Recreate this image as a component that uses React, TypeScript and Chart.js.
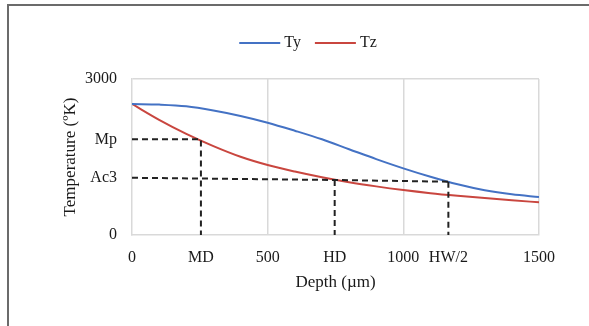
import React, { useEffect, useRef } from "react";
import { Chart, registerables } from "chart.js";

Chart.register(...registerables);

// ---- data ----
const depth = [0, 100, 200, 300, 400, 500, 600, 700, 800, 900, 1000, 1100, 1200, 1300, 1400, 1500];
const tyValues = [2520, 2508, 2475, 2395, 2290, 2160, 2005, 1840, 1650, 1460, 1282, 1120, 975, 860, 782, 731];
const tzValues = [2520, 2215, 1945, 1710, 1505, 1346, 1220, 1110, 1015, 935, 865, 805, 755, 710, 668, 629];

const MP = 1840;
const AC3 = 1100;
const MD = 254;
const HD = 747;
const HW2 = 1166;
const ac3LineDepth = [0, HD, HW2];
const ac3LineTemp = [AC3, 1058, 1025];

const xTickValues = [0, MD, 500, HD, 1000, HW2, 1500];
const xTickLabels = ["0", "MD", "500", "HD", "1000", "HW/2", "1500"];
const yTickValues = [0, AC3, MP, 3000];
const yTickLabels = ["0", "Ac3", "Mp", "3000"];
const seriesNames = ["Ty", "Tz"];
const seriesColors = ["#4472C4", "#C9463F"];

const FONT = "'Liberation Serif', 'Times New Roman', serif";
const TEXT = "#1a1a1a";

const frameLegendPlugin = {
  id: "frameLegend",
  beforeDraw(chart: any) {
    const ctx = chart.ctx;
    ctx.save();
    ctx.strokeStyle = "#6b6b6b";
    ctx.lineWidth = 2;
    ctx.beginPath();
    ctx.moveTo(8, 330);
    ctx.lineTo(8, 5);
    ctx.lineTo(600, 5);
    ctx.stroke();
    ctx.restore();
  },
  afterDraw(chart: any) {
    const ctx = chart.ctx;
    ctx.save();
    ctx.font = `16px ${FONT}`;
    ctx.textBaseline = "middle";
    const items = chart.data.datasets.filter((d: any) => d.showInLegend);
    const lineLen = 41, gapText = 4, gapItem = 14;
    const widths = items.map((d: any) => lineLen + gapText + ctx.measureText(d.label).width);
    const total = widths.reduce((a: number, b: number) => a + b, 0) + gapItem * (items.length - 1);
    let x = 308 - total / 2;
    const y = 43;
    items.forEach((d: any, i: number) => {
      ctx.strokeStyle = d.borderColor;
      ctx.lineWidth = 2;
      ctx.beginPath();
      ctx.moveTo(x, y);
      ctx.lineTo(x + lineLen, y);
      ctx.stroke();
      ctx.fillStyle = TEXT;
      ctx.textAlign = "left";
      ctx.fillText(d.label, x + lineLen + gapText, y);
      x += widths[i] + gapItem;
    });
    ctx.restore();
  },
};

function dashed(points: { x: number; y: number }[]) {
  return {
    label: "",
    data: points,
    borderColor: "#222222",
    borderWidth: 2,
    borderDash: [6, 4],
    pointRadius: 0,
    tension: 0,
    fill: false,
    showInLegend: false,
  };
}

export default function App() {
  const ref = useRef<HTMLCanvasElement>(null);
  useEffect(() => {
    if (!ref.current) return;
    const series = [tyValues, tzValues].map((vals, i) => ({
      label: seriesNames[i],
      data: depth.map((d, j) => ({ x: d, y: vals[j] })),
      borderColor: seriesColors[i],
      backgroundColor: seriesColors[i],
      borderWidth: 2,
      pointRadius: 0,
      cubicInterpolationMode: "monotone" as const,
      fill: false,
      showInLegend: true,
    }));
    const refLines = [
      dashed([{ x: 0, y: MP }, { x: MD, y: MP }, { x: MD, y: 0 }]),
      dashed(ac3LineDepth.map((d, i) => ({ x: d, y: ac3LineTemp[i] }))),
      dashed([{ x: HD, y: ac3LineTemp[1] }, { x: HD, y: 0 }]),
      dashed([{ x: HW2, y: ac3LineTemp[2] }, { x: HW2, y: 0 }]),
    ];
    const chart = new Chart(ref.current, {
      type: "line",
      data: { datasets: [...refLines, ...series] as any },
      plugins: [frameLegendPlugin],
      options: {
        animation: false,
        responsive: false,
        maintainAspectRatio: false,
        layout: { padding: { left: 52, top: 79, right: 50, bottom: 0 } },
        plugins: { legend: { display: false }, tooltip: { enabled: false } },
        scales: {
          x: {
            type: "linear",
            min: 0,
            max: 1500,
            afterBuildTicks: (s: any) => {
              s.ticks = xTickValues.map((v) => ({ value: v }));
            },
            afterFit: (s: any) => {
              s.height = 91;
            },
            ticks: {
              autoSkip: false,
              maxRotation: 0,
              padding: 13,
              color: TEXT,
              font: { family: FONT, size: 16 },
              callback: (v: any) => {
                const i = xTickValues.indexOf(v);
                return i >= 0 ? xTickLabels[i] : "";
              },
            },
            grid: {
              drawTicks: false,
              color: (c: any) => (c.tick && [500, 1000, 1500].includes(c.tick.value) ? "#d9d9d9" : "rgba(0,0,0,0)"),
              lineWidth: 1.5,
            },
            border: { color: "#d9d9d9", width: 1.5 },
            title: {
              display: true,
              text: "Depth (µm)",
              color: TEXT,
              font: { family: FONT, size: 17 },
              padding: { top: 0, bottom: 33 },
            },
          },
          y: {
            type: "linear",
            min: 0,
            max: 3000,
            afterBuildTicks: (s: any) => {
              s.ticks = yTickValues.map((v) => ({ value: v }));
            },
            afterFit: (s: any) => {
              s.width = 80;
            },
            ticks: {
              autoSkip: false,
              padding: 15,
              color: TEXT,
              font: { family: FONT, size: 16 },
              callback: (v: any) => {
                const i = yTickValues.indexOf(v);
                return i >= 0 ? yTickLabels[i] : "";
              },
            },
            grid: {
              drawTicks: false,
              color: (c: any) => (c.tick && c.tick.value === 3000 ? "#d9d9d9" : "rgba(0,0,0,0)"),
              lineWidth: 1.5,
            },
            border: { color: "#d9d9d9", width: 1.5 },
            title: {
              display: true,
              text: "Temperature (ºK)",
              color: TEXT,
              font: { family: FONT, size: 17 },
              padding: { top: 8, bottom: 0 },
            },
          },
        },
      },
    });
    return () => chart.destroy();
  }, []);
  return (
    <div style={{ position: "fixed", left: 0, top: 0, width: 589, height: 326, background: "#fff" }}>
      <canvas ref={ref} width={589} height={326} style={{ display: "block" }} />
    </div>
  );
}
